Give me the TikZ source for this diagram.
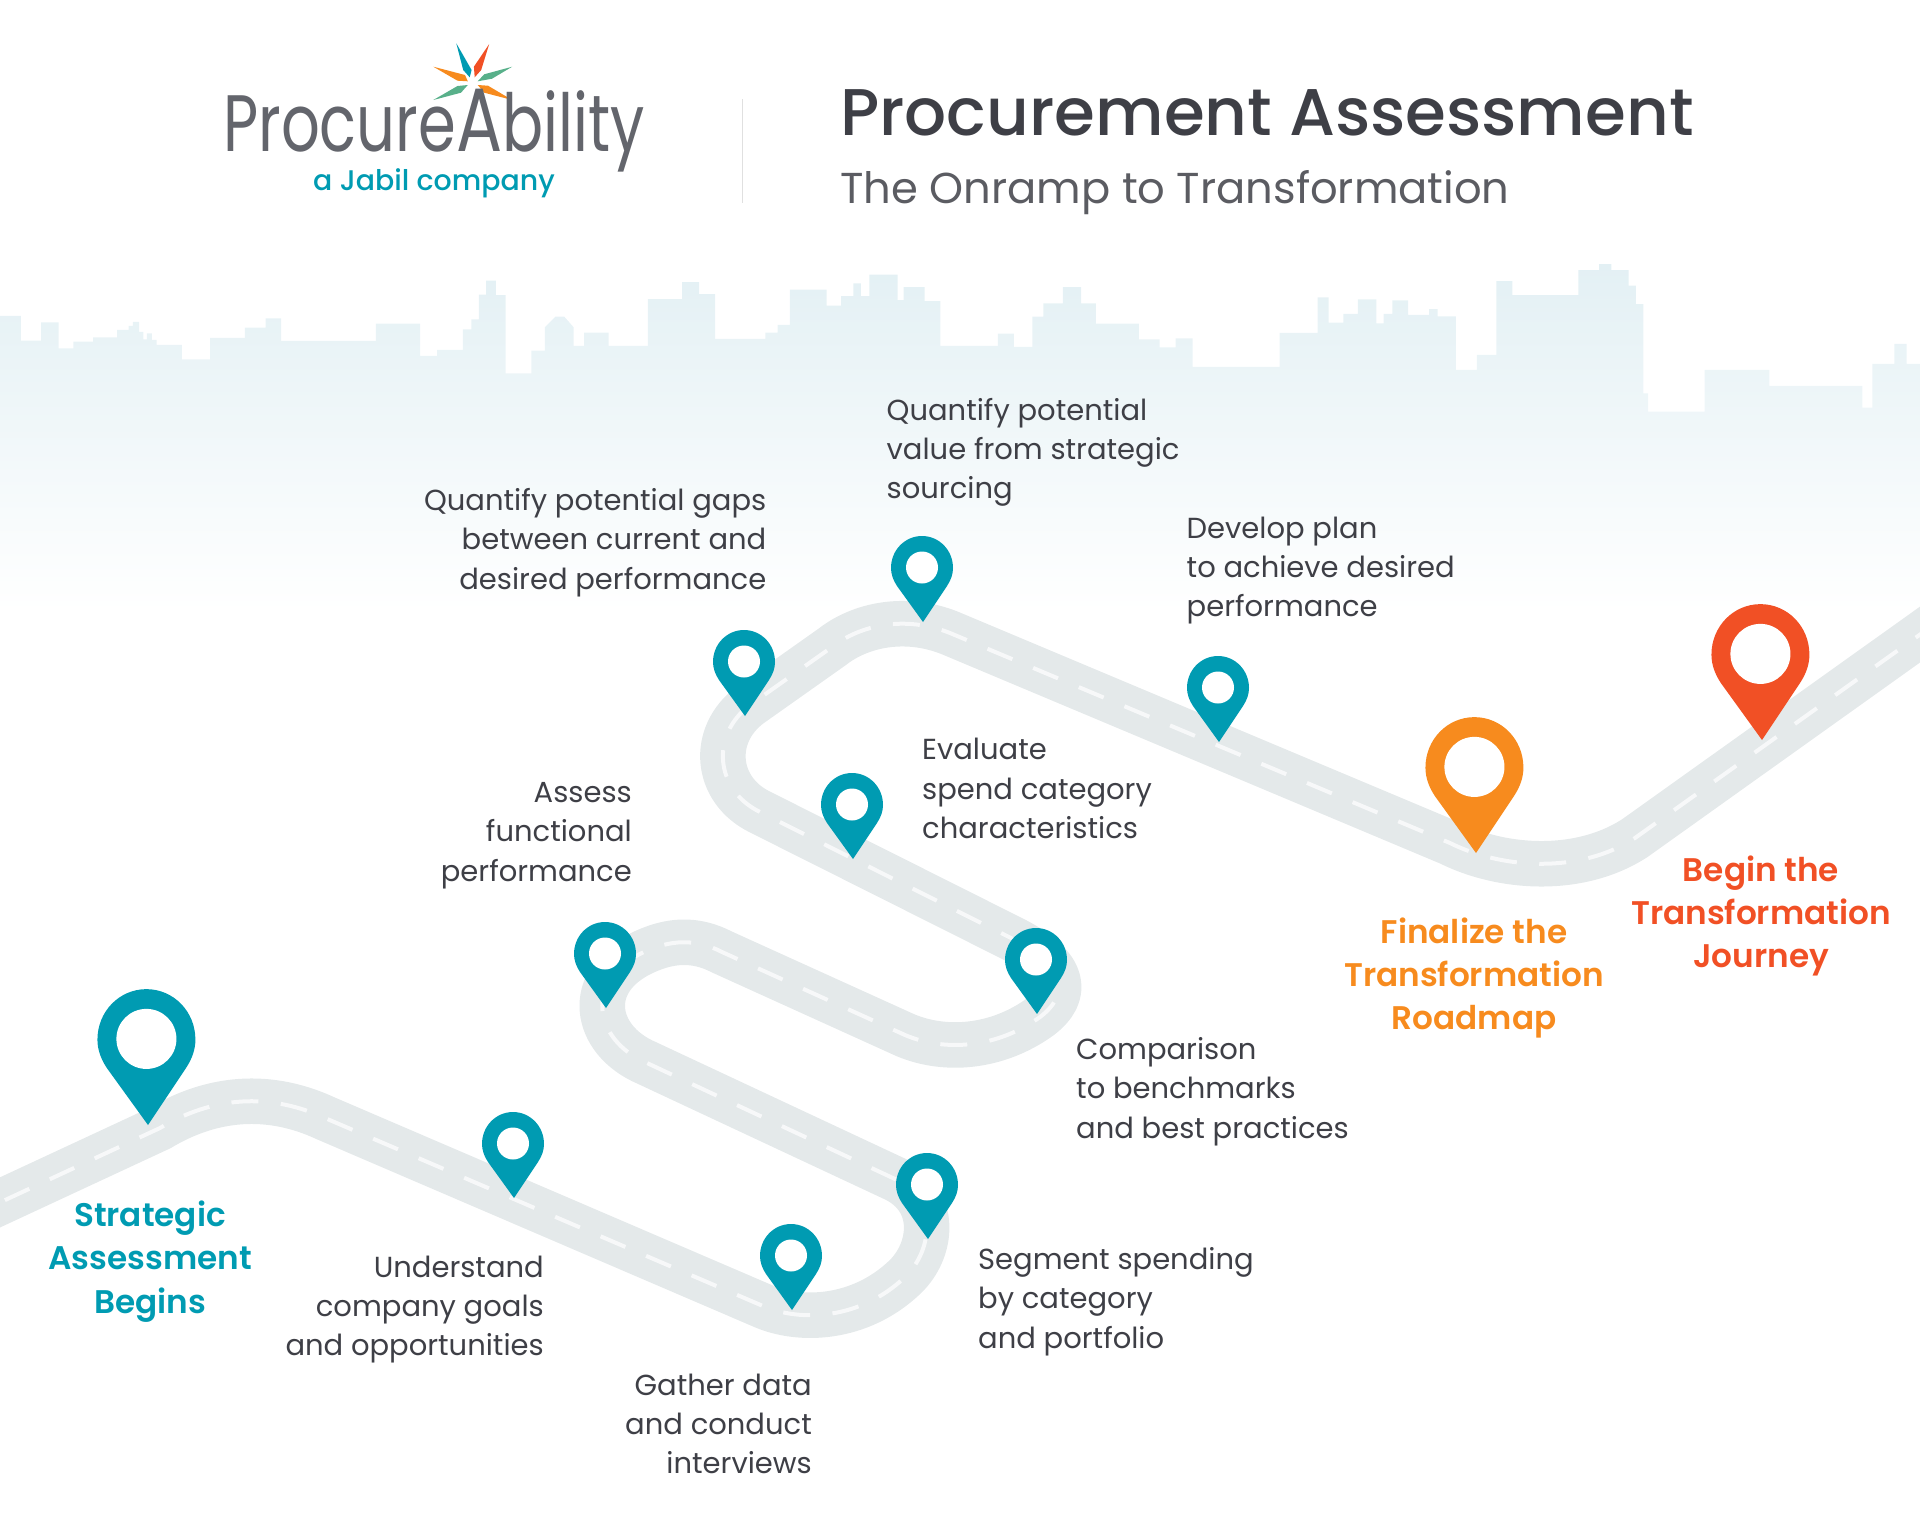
\documentclass[tikz,border=0pt]{standalone}
\usepackage{fontspec}
\usepackage{xcolor}
\setmainfont{Poppins}
\newfontfamily\mediumfont{Poppins Medium}
\newfontfamily\semifont{Poppins SemiBold}
\newfontfamily\logofont[FakeStretch=0.76]{Poppins}
\definecolor{teal}{HTML}{009BB2}
\definecolor{flame}{HTML}{F15025}
\definecolor{amber}{HTML}{F78B1E}
\definecolor{leaf}{HTML}{58B08A}
\definecolor{ink}{HTML}{3E3F46}
\definecolor{logogray}{HTML}{63656C}
\definecolor{asphalt}{HTML}{E4E9EA}
\definecolor{skyline}{HTML}{E3F0F4}
\tikzset{
  road/.style={draw=asphalt,line width=45.5,line join=round},
  lane/.style={draw=white!70!asphalt,line width=4,dash pattern=on 27 off 22.5},
  step note/.style={font=\fontsize{29}{39.3}\selectfont,text=ink,inner sep=0},
  left note/.style={step note,align=left,anchor=west},
  right note/.style={step note,align=right,anchor=east},
  milestone/.style={font=\semifont\fontsize{32.7}{43.2}\selectfont,align=center,inner sep=0}
}
\newcommand{\roadline}{(-40,1221) -- (160,1128) .. controls (205,1101) and (262,1089) .. (325,1118) -- (763,1306) .. controls (800,1322) and (860,1320) .. (905,1277) .. controls (933,1250) and (938,1200) .. (895,1179) -- (647,1063) .. controls (593,1040) and (583,980) .. (644,952) .. controls (670,940) and (695,938) .. (722,952) -- (905,1035) .. controls (945,1052) and (997,1048) .. (1040,1017) .. controls (1069,995) and (1067,967) .. (1015,940) -- (760,812) .. controls (715,790) and (710,735) .. (750,705) -- (832,647) .. controls (860,625) and (905,615) .. (950,633) -- (1450,843) .. controls (1500,868) and (1578,875) .. (1635,838) -- (1960,606)}
\newcommand{\mappin}[4]{
  \begin{scope}[shift={(#1)},scale=#2]
    \fill[#3] (0,0) -- (-26,-36) .. controls (-30,-42) and (-32,-48) .. (-32,-54) .. controls (-32,-72) and (-18,-86) .. (-1,-86) .. controls (16,-86) and (30,-72) .. (30,-54) .. controls (30,-48) and (28,-42) .. (24,-36) -- cycle;
    \fill[white] (-1,-54.5) circle[radius=#4];
  \end{scope}
}
\begin{document}
\begin{tikzpicture}[x=1pt,y=-1pt]
\useasboundingbox (0,0) rectangle (1920,1532);
% city behind the road
\begin{scope}[x=1.2245pt,y=-0.3333pt,yshift=-240pt]
\shade[top color=skyline,bottom color=white] (0,228) -| (17,302) -| (33.6,247) -| (47.8,325) -| (60,305) -| (76,292) -| (95.6,270) -| (105,258) -| (108.5,246) -| (113.7,276) -| (117,298) -| (120,280) -| (124,300) -| (128,315) -| (148.5,358) -| (171.5,294) -| (200,263) -| (217,235) -| (229.6,303) -| (307,251) -| (343,348) -| (357,330) -| (378,268) -| (385,238) -| (391,164) -| (397,122) -| (405,165) -| (413,400) -| (434,332) -| (445,262) -- (453.7,230) -- (460.8,230) -- (468.5,262) -- (468.5,318) -| (477,278) -| (497,318) -| (529,177) -| (557,126) -| (571,162) -| (584,297) -| (625,278) -| (635,255) -| (645,149) -| (675,197) -| (687,168) -| (697,130) -| (703,168) -| (710,104) -| (733,180) -| (738,141) -| (755,183) -| (768,318) -| (815,281) -| (828,321) -| (843,230) -| (852,190) -| (868,141) -| (883,190) -| (895,251) -| (930,298) -| (947,322) -| (960,295) -| (974,381) -| (1045,279) -| (1076,172) -| (1085,248) -| (1097,222) -| (1109,178) -| (1124,250) -| (1130,222) -| (1137,181) -| (1150,225) -| (1167,207) -| (1174,229) -| (1189,390) -| (1206,345) -| (1222,123) -| (1235,165) -| (1289,90) -| (1306,72) -| (1316,90) -| (1330,137) -| (1336,192) -| (1342,460) -| (1346,515) -| (1392,390) -| (1445,438) -| (1521,503) -| (1529,372) -| (1547,312) -| (1557,372) -| (1568,1115) -- (0,1115) -- cycle;
\end{scope}
% logo star
\fill[teal] (456.3,43.3) -- (463.2,70) -- (469.7,77.3) -- (471.6,70) -- cycle;
\fill[flame] (489.2,44) -- (473.9,66.7) -- (474.7,77.3) -- (481.2,70) -- cycle;
\fill[amber] (433.3,66.7) -- (465,75) -- (467.8,81.3) -- (457.5,80.7) -- cycle;
\fill[leaf] (512.2,66.7) -- (484.2,74.3) -- (477.7,81.3) -- (492,78.7) -- cycle;
\fill[leaf] (433.3,100) -- (457.5,86) -- (467.8,85) -- (461,92.7) -- cycle;
\fill[amber] (512.2,100) -- (488,85.7) -- (477.7,85) -- (484.2,92.7) -- cycle;
\node (logotext) [anchor=base west,inner sep=0,text=logogray] at (223,151) {\logofont\fontsize{80}{80}\selectfont Procure{\fontsize{90}{80}\selectfont A}bility};
\node (jabil) [anchor=base,inner sep=0,text=teal] at (434,190) {\mediumfont\fontsize{28.4}{28}\selectfont a Jabil company};
\draw[black!12,line width=1.5] (742.6,99) -- (742.6,203);
% heading
\node (title) [anchor=base west,inner sep=0,text=ink] at (840,135) {\mediumfont\fontsize{66}{66}\selectfont Procurement Assessment};
\node (subtitle) [anchor=base west,inner sep=0,text=ink!85] at (840,203) {\fontsize{43.25}{43}\selectfont The Onramp to Transformation};
% road
\draw[road] \roadline;
\draw[lane] \roadline;
% pins
\mappin{148,1125}{1.58}{teal}{19}
\mappin{514,1198}{1}{teal}{16}
\mappin{792,1310}{1}{teal}{16}
\mappin{928,1239}{1}{teal}{16}
\mappin{606,1008}{1}{teal}{16}
\mappin{1037,1014}{1}{teal}{16}
\mappin{853,859}{1}{teal}{16}
\mappin{745,716}{1}{teal}{16}
\mappin{923,622}{1}{teal}{16}
\mappin{1219,742}{1}{teal}{16}
\mappin{1476,853}{1.58}{amber}{19}
\mappin{1762,740}{1.58}{flame}{19}
% labels
\node (gaps) [right note] at (766.5,542.5) {Quantify potential gaps\\between current and\\desired performance};
\node (value) [left note] at (886.5,452.5) {Quantify potential\\value from strategic\\sourcing};
\node (develop) [left note] at (1186.5,570.5) {Develop plan\\to achieve desired\\performance};
\node (evaluate) [left note] at (922,788.5) {Evaluate\\spend category\\characteristics};
\node (assess) [right note] at (632,835.5) {Assess\\functional\\performance};
\node (comparison) [left note] at (1076,1091.5) {Comparison\\to benchmarks\\and best practices};
\node (segment) [left note] at (978,1301.5) {Segment spending\\by category\\and portfolio};
\node (understand) [right note] at (544,1309.5) {Understand\\company goals\\and opportunities};
\node (gather) [right note] at (812,1424) {Gather data\\and conduct\\interviews};
\node (strategic) [milestone,text=teal] at (150,1261.5) {Strategic\\Assessment\\Begins};
\node (finalize) [milestone,text=amber] at (1474,978) {Finalize the\\Transformation\\Roadmap};
\node (begin) [milestone,text=flame] at (1761,916) {Begin the\\Transformation\\Journey};
\end{tikzpicture}
\end{document}
